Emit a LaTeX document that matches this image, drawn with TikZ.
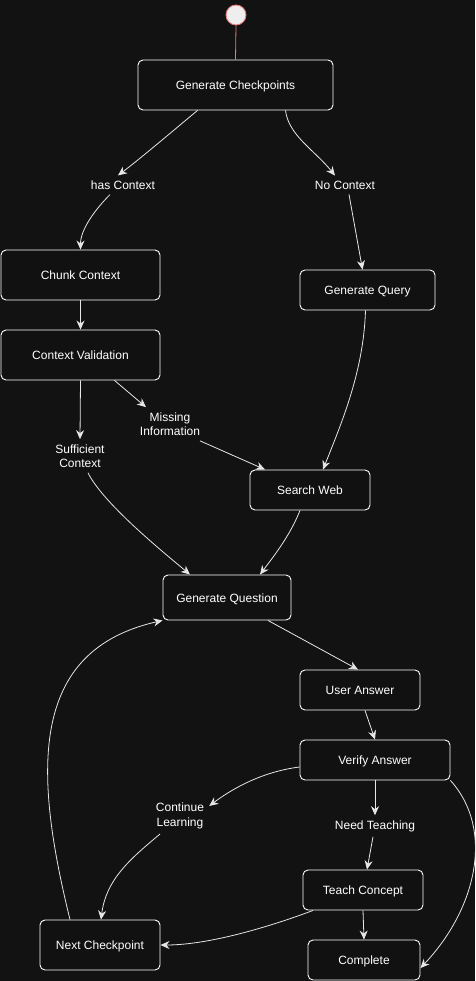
\documentclass[tikz,border=0pt]{standalone}
\usepackage{fontspec}
\setmainfont{Liberation Sans}
\usetikzlibrary{arrows.meta}
\definecolor{bg}{HTML}{121212}
\definecolor{boxfill}{HTML}{111111}
\definecolor{edge}{HTML}{E6E6E6}
\definecolor{startred}{HTML}{E57A7A}
\definecolor{startfill}{HTML}{EEEEEE}
\begin{document}
\begin{tikzpicture}[x=1pt,y=-1pt,
  state/.style={draw=white,fill=boxfill,rounded corners=5pt,line width=0.9pt,text=white,
    font=\fontsize{12}{14}\selectfont,inner sep=0pt,text height=9pt,text depth=0pt},
  lbl/.style={text=white,font=\fontsize{12}{14.5}\selectfont,align=center,inner sep=5pt},
  arr/.style={draw=edge,line width=0.8pt,-{Stealth[length=9pt,width=8pt]}},
  ln/.style={draw=edge,line width=0.8pt}]
\fill[bg] (0,0) rectangle (475,981);
\useasboundingbox (0,0) rectangle (475,981);
% nodes
\node[circle,draw=startred,fill=startfill,line width=0.9pt,minimum size=20pt,inner sep=0pt] (start) at (236,15) {};
\node[state,minimum width=195pt,minimum height=50pt] (gc) at (235.5,85) {Generate Checkpoints};
\node[lbl] (hc) at (123,185) {has Context};
\node[lbl] (nc) at (345,185) {No Context};
\node[state,minimum width=159pt,minimum height=50pt] (cc) at (80.5,275) {Chunk Context};
\node[state,minimum width=135pt,minimum height=40pt] (gq) at (367.5,290) {Generate Query};
\node[state,minimum width=159pt,minimum height=50pt] (cv) at (80.5,355) {Context Validation};
\node[lbl] (mi) at (170,424) {Missing\\Information};
\node[lbl] (sc) at (80,456) {Sufficient\\Context};
\node[state,minimum width=120pt,minimum height=40pt] (sw) at (310,490) {Search Web};
\node[state,minimum width=128pt,minimum height=45pt] (gqs) at (227,597.5) {Generate Question};
\node[state,minimum width=120pt,minimum height=40pt] (ua) at (360,690) {User Answer};
\node[state,minimum width=150pt,minimum height=40pt] (va) at (375,760) {Verify Answer};
\node[lbl] (cl) at (180,816) {Continue\\Learning};
\node[lbl] (nt) at (375,826) {Need Teaching};
\node[state,minimum width=120pt,minimum height=40pt] (tc) at (363,890) {Teach Concept};
\node[state,minimum width=120pt,minimum height=50pt] (nx) at (100,945) {Next Checkpoint};
\node[state,minimum width=112pt,minimum height=40pt] (cp) at (364,960) {Complete};
% edges
\draw[draw=startred,line width=0.8pt] (start.south) -- (gc.north);
\draw[arr] ([xshift=-38pt]gc.south) .. controls +(-30,25) and +(20,-15) .. ([xshift=-5pt]hc.north);
\draw[arr] ([xshift=-13pt]hc.south) .. controls +(-15,15) and +(0,-20) .. (cc.north);
\draw[arr] ([xshift=50pt]gc.south) .. controls +(3,25) and +(-20,-25) .. ([xshift=-10pt]nc.north);
\draw[arr] ([xshift=4pt]nc.south) -- ([xshift=-5pt]gq.north);
\draw[arr] (cc.south) -- (cv.north);
\draw[arr] (cv.south) -- (sc.north);
\draw[arr] ([xshift=34pt]cv.south) -- ([xshift=-24pt]mi.north);
\draw[arr] ([xshift=30pt]mi.south) -- ([xshift=-45pt]sw.north);
\draw[arr] ([xshift=-2pt]gq.south) .. controls +(-2,60) and +(20,-50) .. ([xshift=13pt]sw.north);
\draw[arr] ([xshift=8pt]sc.south) .. controls +(15,30) and +(-30,-25) .. ([xshift=-37pt]gqs.north);
\draw[arr] ([xshift=-10pt]sw.south) .. controls +(-10,25) and +(15,-20) .. ([xshift=33pt]gqs.north);
\draw[arr] ([xshift=41pt]gqs.south) -- ([xshift=-2pt]ua.north);
\draw[arr] ([xshift=5pt]ua.south) -- (va.north);
\draw[arr] ([yshift=-7pt]va.west) .. controls +(-40,5) and +(20,-15) .. ([yshift=-8pt]cl.north east);
\draw[arr] ([xshift=-20pt]cl.south) .. controls +(-30,25) and +(5,-40) .. ([xshift=1pt]nx.north);
\draw[arr] (va.south) -- (nt.north);
\draw[arr] ([xshift=-2pt]nt.south) -- ([xshift=4pt]tc.north);
\draw[arr] ([xshift=-50pt]tc.south) .. controls +(-40,15) and +(50,0) .. (nx.east);
\draw[arr] (tc.south) -- (cp.north);
\draw[arr] (va.south east) .. controls +(45,50) and +(55,-58) .. ([yshift=-8pt]cp.east);
\draw[arr] ([xshift=-30pt]nx.north) .. controls +(-37,-150) and +(-133,30) .. (gqs.south west);
\end{tikzpicture}
\end{document}
